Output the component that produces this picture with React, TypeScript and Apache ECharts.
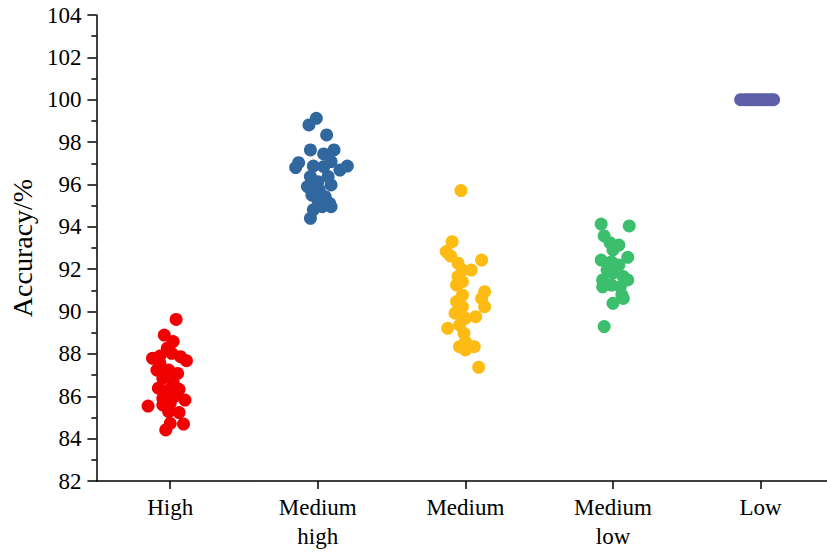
import React, { useEffect, useRef } from "react";
import * as echarts from "echarts";

const categories = ["High", "Medium\nhigh", "Medium", "Medium\nlow", "Low"];
const colors = ["#f00000", "#31679f", "#fdbb14", "#3cbf6c", "#5d5fa8"];
const yTicks = { min: 82, max: 104, interval: 2 };

const highValues = [89.63, 88.89, 88.58, 88.27, 87.79, 87.68, 87.87, 87.56, 88.03, 87.24, 87.24, 87.08, 86.85, 86.69, 86.38, 86.33, 86.3, 85.9, 85.82, 85.54, 85.67, 85.59, 85.23, 85.27, 84.69, 84.72, 84.41, 86.0, 87.9];
const highJitter = [0.04, -0.04, 0.02, -0.02, -0.12, 0.11, 0.07, -0.07, 0.01, -0.09, -0.01, 0.05, -0.05, 0.02, -0.08, 0.06, -0.01, -0.05, 0.1, -0.15, 0.0, -0.05, 0.06, -0.01, 0.09, 0.0, -0.03, 0.03, -0.07];

const medHighValues = [99.12, 98.81, 98.34, 97.63, 97.63, 97.44, 97.03, 96.87, 96.87, 97.08, 96.84, 96.68, 96.37, 96.37, 96.13, 95.9, 95.98, 95.74, 95.5, 95.42, 95.27, 95.11, 94.95, 94.8, 94.4, 94.95, 96.8];
const medHighJitter = [-0.01, -0.06, 0.06, -0.05, 0.11, 0.04, -0.13, 0.2, -0.03, 0.09, 0.04, 0.15, -0.05, 0.07, 0.0, -0.07, 0.09, 0.01, -0.04, 0.05, 0.0, 0.08, 0.03, -0.03, -0.05, 0.09, -0.15];

const mediumValues = [95.71, 93.3, 92.83, 92.62, 92.43, 92.28, 91.96, 91.96, 91.65, 91.25, 91.41, 90.94, 90.62, 90.78, 90.47, 90.23, 90.23, 89.92, 89.76, 89.68, 89.21, 89.36, 88.97, 88.58, 88.34, 88.34, 88.19, 87.37];
const mediumJitter = [-0.03, -0.09, -0.13, -0.1, 0.11, -0.05, 0.04, -0.02, -0.05, -0.06, -0.02, 0.13, 0.11, -0.02, -0.06, 0.13, -0.02, -0.07, 0.07, 0.0, -0.12, -0.04, -0.01, 0.0, -0.04, 0.06, 0.0, 0.09];

const medLowValues = [94.13, 94.04, 93.57, 93.25, 93.14, 92.91, 92.56, 92.43, 92.35, 92.2, 91.96, 91.81, 91.65, 91.49, 91.49, 91.25, 91.17, 91.17, 90.78, 90.62, 90.39, 89.29];
const medLowJitter = [-0.08, 0.11, -0.06, -0.02, 0.04, 0.0, 0.1, -0.08, -0.01, 0.04, -0.04, 0.0, 0.07, -0.07, 0.1, -0.01, -0.07, 0.05, 0.06, 0.07, 0.0, -0.06];

const lowValues = [100, 100, 100, 100, 100, 100, 100, 100, 100, 100, 100, 100];
const lowJitter = [-0.135, -0.11, -0.09, -0.07, -0.05, -0.03, -0.01, 0.01, 0.03, 0.05, 0.07, 0.088];

const groups = [
  { values: highValues, jitter: highJitter },
  { values: medHighValues, jitter: medHighJitter },
  { values: mediumValues, jitter: mediumJitter },
  { values: medLowValues, jitter: medLowJitter },
  { values: lowValues, jitter: lowJitter },
];

const FONT = "Liberation Serif";

export default function App() {
  const ref = useRef<HTMLDivElement>(null);
  useEffect(() => {
    if (!ref.current) return;
    const chart = echarts.init(ref.current, null, { renderer: "svg" });
    chart.setOption({
      animation: false,
      backgroundColor: "#ffffff",
      textStyle: { fontFamily: FONT },
      grid: { left: 95, right: 0, top: 15, bottom: 73 },
      xAxis: {
        type: "value",
        min: -0.5,
        max: 4.45,
        splitLine: { show: false },
        axisLine: { show: true, onZero: false, lineStyle: { color: "#000", width: 1.5 } },
        axisTick: {
          show: true,
          customValues: [0, 1, 2, 3, 4],
          length: 8,
          lineStyle: { color: "#000", width: 1.5 },
        },
        axisLabel: {
          customValues: [0, 1, 2, 3, 4],
          formatter: (v: number) => categories[Math.round(v)] ?? "",
          fontFamily: FONT,
          fontSize: 23,
          color: "#000",
          margin: 12,
          lineHeight: 29,
        },
      },
      yAxis: {
        type: "value",
        min: yTicks.min,
        max: yTicks.max,
        interval: yTicks.interval,
        name: "Accuracy/%",
        nameLocation: "middle",
        nameGap: 59,
        nameTextStyle: { fontFamily: FONT, fontSize: 28, color: "#000" },
        splitLine: { show: false },
        axisLine: { show: true, onZero: false, lineStyle: { color: "#000", width: 1.5 } },
        axisTick: { show: true, length: 9, lineStyle: { color: "#000", width: 1.5 } },
        minorTick: { show: true, splitNumber: 2, length: 5, lineStyle: { color: "#000", width: 1.5 } },
        axisLabel: { fontFamily: FONT, fontSize: 23, color: "#000", margin: 15 },
      },
      series: groups.map((g, i) => ({
        type: "scatter",
        name: categories[i],
        symbol: "circle",
        symbolSize: 13,
        itemStyle: { color: colors[i], opacity: 1 },
        data: g.values.map((v, k) => [i + g.jitter[k], v]),
      })),
    });
    return () => chart.dispose();
  }, []);
  return <div ref={ref} style={{ width: 827, height: 554, position: "absolute", left: 0, top: 0 }} />;
}
